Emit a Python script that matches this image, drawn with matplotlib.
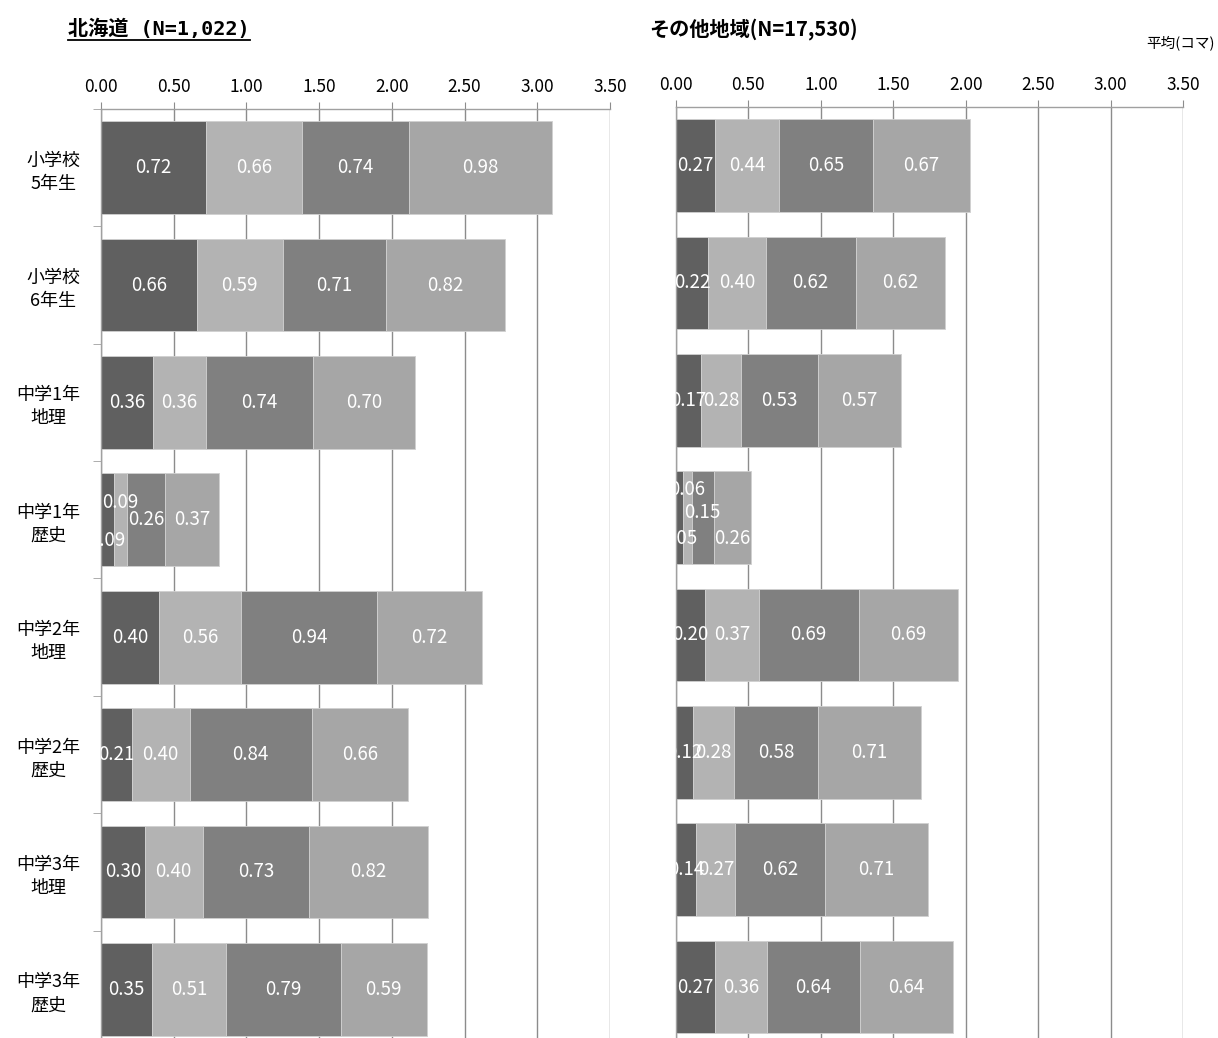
import matplotlib
matplotlib.use("Agg")
import matplotlib.pyplot as plt
from matplotlib.lines import Line2D
import numpy as np

plt.rcParams['font.family'] = ['Noto Sans CJK JP', 'DejaVu Sans']

# categories (top to bottom)
categories = ["小学校\n5年生", "小学校\n6年生", "中学1年\n地理", "中学1年\n歴史",
              "中学2年\n地理", "中学2年\n歴史", "中学3年\n地理", "中学3年\n歴史"]

# Hokkaido, four stacked segments per row
hok_s1 = [0.72, 0.66, 0.36, 0.09, 0.40, 0.21, 0.30, 0.35]
hok_s2 = [0.66, 0.59, 0.36, 0.09, 0.56, 0.40, 0.40, 0.51]
hok_s3 = [0.74, 0.71, 0.74, 0.26, 0.94, 0.84, 0.73, 0.79]
hok_s4 = [0.98, 0.82, 0.70, 0.37, 0.72, 0.66, 0.82, 0.59]

# other regions
oth_s1 = [0.27, 0.22, 0.17, 0.05, 0.20, 0.12, 0.14, 0.27]
oth_s2 = [0.44, 0.40, 0.28, 0.06, 0.37, 0.28, 0.27, 0.36]
oth_s3 = [0.65, 0.62, 0.53, 0.15, 0.69, 0.58, 0.62, 0.64]
oth_s4 = [0.67, 0.62, 0.57, 0.26, 0.69, 0.71, 0.71, 0.64]

xticks = [0.0, 0.5, 1.0, 1.5, 2.0, 2.5, 3.0, 3.5]

SEG_COLORS = ["#606060", "#b3b3b3", "#808080", "#a6a6a6"]
GRID_COLOR = "#8c8c8c"
BAR_H = 0.79

# label shifts (in category units) where Excel moved overlapping labels
HOK_SHIFT = {(3, 0): 0.18, (3, 1): -0.15}
OTH_SHIFT = {(3, 0): 0.18, (3, 1): -0.24, (3, 2): -0.04, (3, 3): 0.18}


def draw_panel(ax, series, shifts, show_cats):
    y = np.arange(len(categories))
    left = np.zeros(len(categories))
    for k, vals in enumerate(series):
        vals = np.array(vals)
        ax.barh(y, vals, left=left, height=BAR_H, color=SEG_COLORS[k],
                edgecolor="#d0d0d0", linewidth=0.6, zorder=2)
        for i, v in enumerate(vals):
            ax.text(left[i] + v / 2, y[i] + shifts.get((i, k), 0.0), f"{v:.2f}",
                    ha="center", va="center", color="white", fontsize=13.5,
                    zorder=3, clip_on=True)
        left = left + vals

    ax.set_xlim(0, 3.5)
    ax.set_ylim(len(categories) - 0.5, -0.5)
    ax.xaxis.tick_top()
    ax.set_xticks(xticks)
    ax.set_xticklabels([f"{t:.2f}" for t in xticks], fontsize=12.5)
    ax.tick_params(axis="x", direction="out", length=5, color=GRID_COLOR, pad=4)
    ax.grid(axis="x", color=GRID_COLOR, linewidth=1.0, zorder=0)
    ax.set_axisbelow(True)

    for s in ("right", "bottom"):
        ax.spines[s].set_visible(False)
    for s in ("top", "left"):
        ax.spines[s].set_color("#a0a0a0")
        ax.spines[s].set_linewidth(1.0)

    if show_cats:
        ax.set_yticks(y)
        ax.set_yticklabels(categories, fontsize=13, multialignment="center",
                           linespacing=1.35)
        ax.tick_params(axis="y", which="major", length=0, pad=15)
        ax.set_yticks(np.arange(len(categories) + 1) - 0.5, minor=True)
        ax.tick_params(axis="y", which="minor", length=6, color="#a0a0a0")
    else:
        ax.set_yticks([])


def main():
    fig = plt.figure(figsize=(12.18, 10.38), dpi=100)
    ax1 = fig.add_axes([0.0829, -0.0096, 0.4179, 0.9046])
    ax2 = fig.add_axes([0.5550, -0.0075, 0.4163, 0.9046])

    draw_panel(ax1, [hok_s1, hok_s2, hok_s3, hok_s4], HOK_SHIFT, True)
    draw_panel(ax2, [oth_s1, oth_s2, oth_s3, oth_s4], OTH_SHIFT, False)

    t1 = fig.text(0.056, 0.972, "北海道 (N=1,022)", fontsize=14.5, fontweight="bold",
                  va="center", ha="left", family=["DejaVu Sans Mono", "Noto Sans CJK JP"])
    fig.text(0.533, 0.972, "その他地域(N=17,530)", fontsize=14.5, fontweight="bold",
             va="center", ha="left")
    fig.text(0.997, 0.959, "平均(コマ)", fontsize=10.5, va="center", ha="right")

    # underline for the Hokkaido title
    fig.canvas.draw()
    bb = t1.get_window_extent().transformed(fig.transFigure.inverted())
    fig.add_artist(Line2D([bb.x0, bb.x1], [bb.y0 - 0.001, bb.y0 - 0.001],
                          color="black", linewidth=1.3))

    fig.savefig("out.png", dpi=100)


if __name__ == "__main__":
    main()
